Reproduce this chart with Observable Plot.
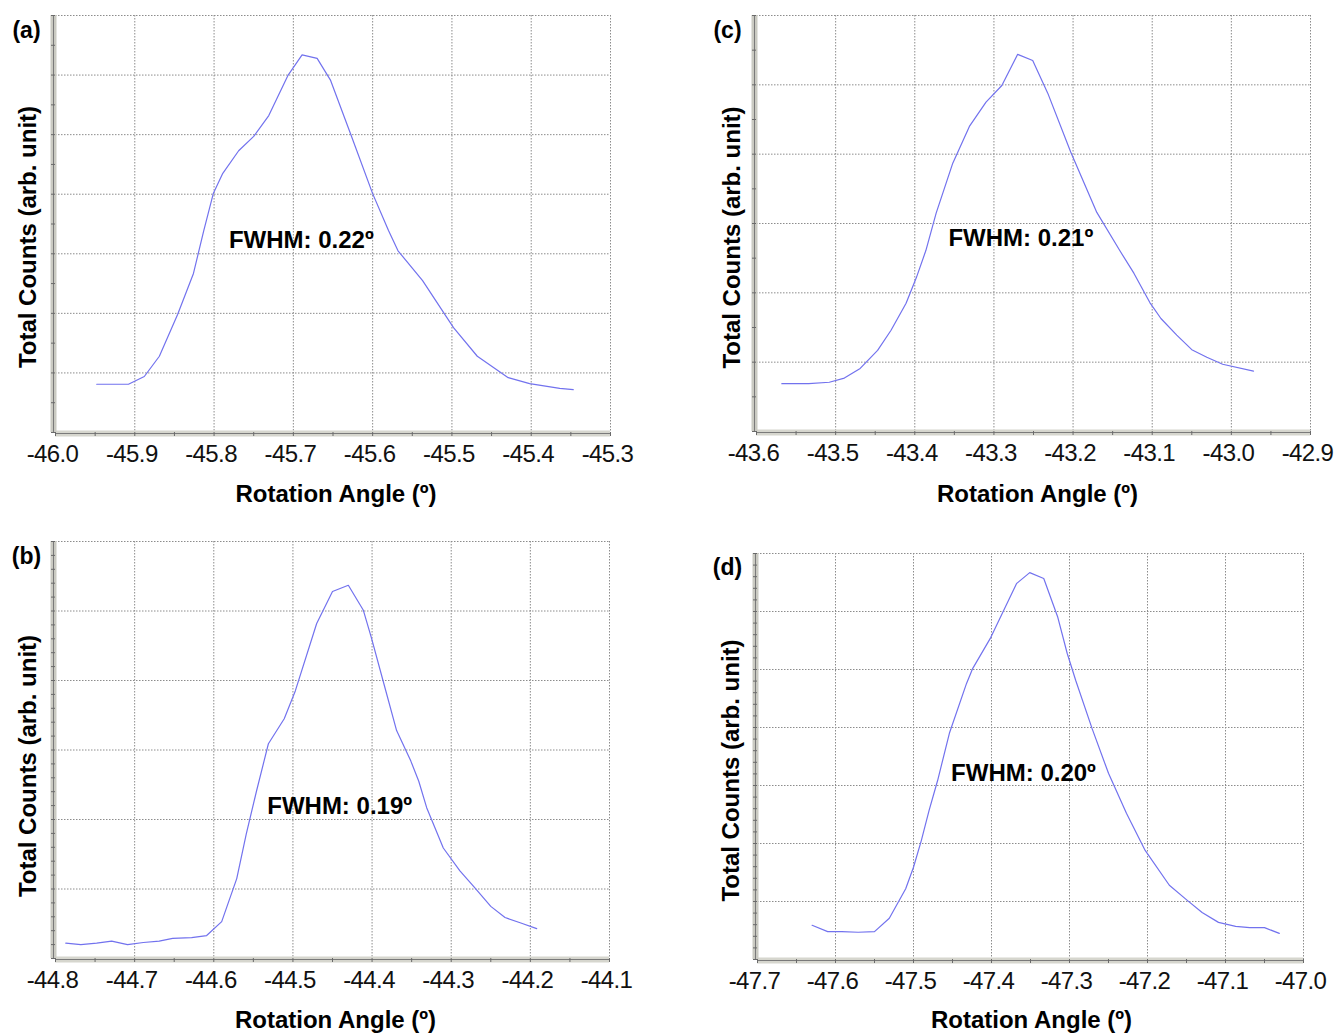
<!DOCTYPE html>
<html><head><meta charset="utf-8">
<script src="https://cdn.jsdelivr.net/npm/d3@7"></script>
<script src="https://cdn.jsdelivr.net/npm/@observablehq/plot@0.6"></script>
<style>
html,body{margin:0;padding:0;background:#fff;}
#root{position:relative;width:1335px;height:1034px;overflow:hidden;background:#fff;}
#root svg{position:absolute;overflow:visible;max-width:none;}
.ticklab text{letter-spacing:-0.6px;}
</style></head><body><div id="root"></div>
<script>
// ---- text ----
const panelLetters = ["(a)", "(b)", "(c)", "(d)"];
const fwhmLabels = ["FWHM: 0.22º", "FWHM: 0.19º", "FWHM: 0.21º", "FWHM: 0.20º"];
const xTitle = "Rotation Angle (º)";
const yTitle = "Total Counts (arb. unit)";

// ---- tick labels ----
const ticksA = [-46.0, -45.9, -45.8, -45.7, -45.6, -45.5, -45.4, -45.3];
const ticksB = [-44.8, -44.7, -44.6, -44.5, -44.4, -44.3, -44.2, -44.1];
const ticksC = [-43.6, -43.5, -43.4, -43.3, -43.2, -43.1, -43.0, -42.9];
const ticksD = [-47.7, -47.6, -47.5, -47.4, -47.3, -47.2, -47.1, -47.0];

// ---- series ----
const aAngle = [-45.948,-45.908,-45.888,-45.869,-45.846,-45.826,-45.813,-45.801,-45.789,-45.769,-45.750,-45.731,-45.707,-45.689,-45.670,-45.653,-45.628,-45.600,-45.580,-45.568,-45.537,-45.498,-45.468,-45.429,-45.402,-45.364,-45.347];
const aCounts = [0.81,0.81,0.94,1.28,1.98,2.67,3.39,4.01,4.35,4.73,4.97,5.32,5.99,6.34,6.28,5.91,5.02,4.01,3.39,3.05,2.55,1.76,1.28,0.92,0.82,0.74,0.72];

const bAngle = [-44.787,-44.768,-44.748,-44.729,-44.709,-44.689,-44.669,-44.652,-44.628,-44.609,-44.590,-44.571,-44.559,-44.546,-44.531,-44.511,-44.497,-44.470,-44.450,-44.430,-44.411,-44.401,-44.385,-44.369,-44.351,-44.341,-44.331,-44.310,-44.289,-44.272,-44.250,-44.232,-44.212,-44.192];
const bCounts = [0.22,0.20,0.22,0.25,0.20,0.23,0.25,0.29,0.30,0.33,0.53,1.15,1.79,2.41,3.09,3.45,3.85,4.82,5.28,5.37,5.01,4.62,3.95,3.28,2.84,2.55,2.17,1.59,1.26,1.04,0.75,0.59,0.51,0.43];

const cAngle = [-43.568,-43.534,-43.508,-43.489,-43.469,-43.447,-43.430,-43.411,-43.398,-43.386,-43.373,-43.352,-43.331,-43.310,-43.290,-43.270,-43.251,-43.232,-43.203,-43.170,-43.141,-43.123,-43.103,-43.089,-43.069,-43.050,-43.031,-43.011,-42.972];
const cCounts = [0.69,0.69,0.71,0.77,0.91,1.17,1.46,1.85,2.22,2.61,3.15,3.87,4.40,4.75,4.99,5.44,5.35,4.88,4.03,3.16,2.61,2.28,1.86,1.63,1.39,1.18,1.07,0.97,0.87];

const dAngle = [-47.630,-47.610,-47.592,-47.571,-47.550,-47.531,-47.510,-47.500,-47.490,-47.480,-47.469,-47.454,-47.432,-47.424,-47.401,-47.368,-47.351,-47.333,-47.315,-47.303,-47.292,-47.271,-47.250,-47.227,-47.203,-47.172,-47.149,-47.130,-47.109,-47.087,-47.069,-47.050,-47.031];
const dCounts = [0.59,0.48,0.48,0.47,0.48,0.71,1.22,1.59,2.05,2.57,3.09,3.90,4.76,5.02,5.55,6.48,6.67,6.57,5.90,5.28,4.81,3.98,3.21,2.52,1.88,1.28,1.02,0.81,0.64,0.57,0.55,0.55,0.45];

const FONT = "'Liberation Sans', Arial, Helvetica, sans-serif";

function panel(o) {
  const data = o.angle.map((x, i) => ({x, y: o.counts[i]}));
  const x0 = o.ticks[0], x1 = o.ticks[o.ticks.length - 1];
  const y0 = 0, y1 = o.yMax;
  const minorX = d3.range(0, 15).map(i => +(x0 + i * 0.05).toFixed(3));
  const minorY = d3.range(0, Math.round(y1 / o.yMinor) + 1).map(i => +(i * o.yMinor).toFixed(3));
  const gridY = d3.range(0, y1 + 1);
  const plot = Plot.plot({
    width: o.w, height: o.h,
    marginLeft: o.ml, marginRight: o.mr, marginTop: o.mt, marginBottom: o.mb,
    x: {domain: [x0, x1], label: null},
    y: {domain: [y0, y1], label: null},
    style: {fontFamily: FONT, color: "#000", background: "transparent", overflow: "visible"},
    marks: [
      Plot.gridX({ticks: o.ticks, stroke: "#8c8c8c", strokeOpacity: 1, strokeWidth: 1, strokeDasharray: "1.5,1.5"}),
      Plot.gridY({ticks: gridY, stroke: "#8c8c8c", strokeOpacity: 1, strokeWidth: 1, strokeDasharray: "1.5,1.5"}),
      // axis bars
      Plot.ruleY([y0], {x1: x0, x2: x1, stroke: "#d6d6ce", strokeWidth: 6, dy: 1}),
      Plot.ruleX([x0], {y1: y0, y2: y1, stroke: "#cacac2", strokeWidth: 6, dx: -2}),
      Plot.ruleY([y0], {x1: x0, x2: x1, stroke: "#7a7a7a", strokeWidth: 1, dy: 1}),
      Plot.ruleX([x0], {y1: y0, y2: y1, stroke: "#7a7a7a", strokeWidth: 1, dx: -2}),
      Plot.axisX({ticks: minorX, tickSize: 4, tickFormat: () => "", label: null, stroke: "#6a6a6a"}),
      Plot.axisY({ticks: minorY, tickSize: 4, tickFormat: () => "", label: null, stroke: "#6a6a6a"}),
      Plot.axisX({ticks: o.ticks, tickSize: 0, tickPadding: 12, tickFormat: d => d.toFixed(1),
                  label: null, fontSize: 24, fill: "#111", dx: -3, className: "ticklab"}),
      Plot.line(data, {x: "x", y: "y", stroke: "#7272ee", strokeWidth: 1.2}),
      Plot.text([o.fwhm], {x: () => o.fx, y: () => o.fy, text: d => d, fontSize: 24, fontWeight: "bold",
                           textAnchor: "middle", lineAnchor: "middle", fill: "#000"}),
      Plot.text([o.letter], {frameAnchor: "top-left", dx: o.ldx, dy: o.ldy, text: d => d, fontSize: 23,
                             fontWeight: "bold", textAnchor: "middle", lineAnchor: "middle", fill: "#000"}),
      Plot.text([yTitle], {frameAnchor: "left", rotate: -90, dx: o.ydx, dy: o.ydy, text: d => d, fontSize: 24,
                           fontWeight: "bold", textAnchor: "middle", lineAnchor: "middle", fill: "#000"}),
      Plot.text([xTitle], {frameAnchor: "bottom", dx: o.xdx, dy: o.xdy, text: d => d, fontSize: 24,
                           fontWeight: "bold", textAnchor: "middle", lineAnchor: "middle", fill: "#000"})
    ]
  });
  plot.style.left = o.left + "px";
  plot.style.top = o.top + "px";
  return plot;
}

const root = document.getElementById("root");
root.append(panel({
  angle: aAngle, counts: aCounts, ticks: ticksA, yMax: 7, yMinor: 0.5,
  letter: panelLetters[0], fwhm: fwhmLabels[0], fx: -45.690, fy: 3.22,
  left: 0, top: 0, w: 660, h: 520, ml: 55, mr: 50, mt: 15, mb: 88,
  ldx: -29, ldy: 15, ydx: -27, ydy: 13, xdx: 3, xdy: 62
}));
root.append(panel({
  angle: cAngle, counts: cCounts, ticks: ticksC, yMax: 6, yMinor: 0.5,
  letter: panelLetters[2], fwhm: fwhmLabels[2], fx: -43.266, fy: 2.785,
  left: 700, top: 0, w: 635, h: 520, ml: 56, mr: 25, mt: 15, mb: 89,
  ldx: -29, ldy: 15, ydx: -24, ydy: 14, xdx: 4, xdy: 63
}));
root.append(panel({
  angle: bAngle, counts: bCounts, ticks: ticksB, yMax: 6, yMinor: 0.2,
  letter: panelLetters[1], fwhm: fwhmLabels[1], fx: -44.441, fy: 2.19,
  left: 0, top: 526, w: 660, h: 508, ml: 55, mr: 51, mt: 15, mb: 76,
  ldx: -29, ldy: 15, ydx: -27, ydy: 16, xdx: 3, xdy: 62
}));
root.append(panel({
  angle: dAngle, counts: dCounts, ticks: ticksD, yMax: 7, yMinor: 0.2,
  letter: panelLetters[3], fwhm: fwhmLabels[3], fx: -47.359, fy: 3.21,
  left: 700, top: 526, w: 635, h: 508, ml: 57, mr: 32, mt: 27, mb: 75,
  ldx: -30, ldy: 14, ydx: -26, ydy: 14, xdx: 1, xdy: 61
}));
</script>
</body></html>
